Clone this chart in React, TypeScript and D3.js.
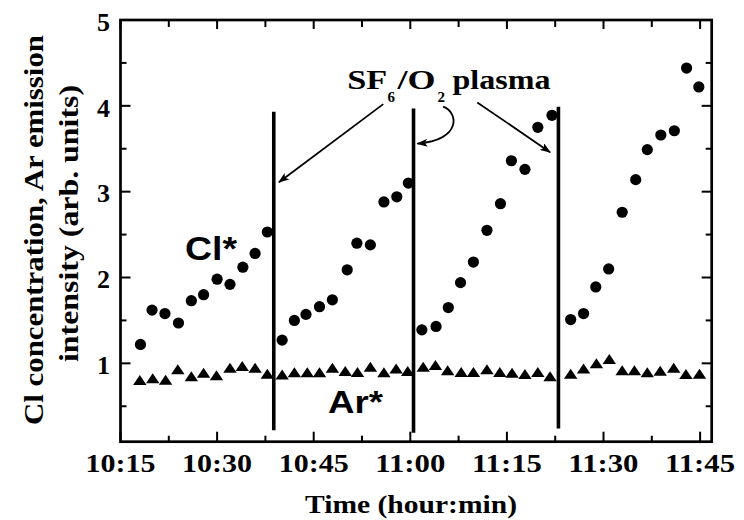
import React from 'react';
import * as d3 from 'd3';

// time in minutes after 10:00
const clTime = [
  18.1, 19.9, 21.9, 24.0, 26.0, 27.9, 30.0, 32.0, 34.0, 35.9, 37.8,
  40.1, 42.0, 43.8, 45.9, 47.9, 50.2, 51.7, 53.8, 55.9, 57.9, 59.7,
  61.8, 64.0, 65.9, 67.8, 69.8, 71.9, 74.0, 75.7, 77.8, 79.8, 82.0,
  84.9, 86.9, 88.8, 90.8, 92.9, 95.0, 96.8, 98.9, 101.0, 102.9, 104.8,
];
const clValue = [
  1.22, 1.62, 1.58, 1.47, 1.73, 1.80, 1.98, 1.92, 2.12, 2.28, 2.53,
  1.27, 1.50, 1.57, 1.66, 1.74, 2.09, 2.40, 2.38, 2.88, 2.94, 3.10,
  1.39, 1.43, 1.65, 1.94, 2.18, 2.55, 2.86, 3.36, 3.26, 3.75, 3.89,
  1.51, 1.58, 1.89, 2.10, 2.76, 3.14, 3.49, 3.66, 3.71, 4.44, 4.22,
];
const arTime = [
  18.0, 20.0, 22.0, 23.9, 26.0, 27.9, 29.9, 32.0, 33.9, 35.9, 37.8,
  40.1, 42.0, 44.0, 45.9, 47.9, 49.9, 51.8, 53.8, 55.9, 57.8, 59.6,
  62.0, 63.9, 65.8, 67.9, 69.8, 71.9, 73.9, 75.8, 77.8, 79.8, 81.7,
  84.9, 86.9, 88.9, 90.9, 92.9, 94.8, 96.8, 98.8, 100.9, 102.8, 104.9,
];
const arValue = [
  0.805, 0.825, 0.81, 0.93, 0.85, 0.89, 0.86, 0.95, 0.97, 0.95, 0.88,
  0.87, 0.895, 0.895, 0.895, 0.95, 0.91, 0.90, 0.96, 0.895, 0.94, 0.91,
  0.96, 0.98, 0.92, 0.90, 0.90, 0.93, 0.90, 0.89, 0.875, 0.90, 0.85,
  0.88, 0.94, 1.00, 1.05, 0.92, 0.92, 0.895, 0.915, 0.95, 0.875, 0.88,
];

const plasmaOnTime = [38.8, 60.5, 83.0];
const plasmaLineTop = [3.93, 3.97, 3.99];
const plasmaLineBottom = [0.22, 0.19, 0.24];

const xTickMinutes = [15, 30, 45, 60, 75, 90, 105];
const xTickLabels = ['10:15', '10:30', '10:45', '11:00', '11:15', '11:30', '11:45'];
const xMinorMinutes = [22.5, 37.5, 52.5, 67.5, 82.5, 97.5];
const yTicks = [1, 2, 3, 4, 5];
const yMinor = [0.5, 1.5, 2.5, 3.5, 4.5];

const serifStyle = { fontFamily: '"Liberation Serif", "Times New Roman", Times, serif', fontWeight: 700 };
const sansStyle = { fontFamily: '"Liberation Sans", Arial, Helvetica, sans-serif', fontWeight: 700 };

export default function App() {
  const L = 120.5, R = 711.7, T = 20, B = 441.7;
  const x = d3.scaleLinear().domain([15, 106.8]).range([L, R]);
  const y = d3.scaleLinear().domain([0.087, 5]).range([B, T]);

  const triPath = 'M0,-5 L6.7,5 L-6.7,5 Z';

  // annotation anchor points in data coords
  const textX = x(50.2), textY = y(4.2);
  const a1s = [x(55.8), y(4.02)], a1e = [x(39.6), y(3.11)];
  const a3s = [x(70.4), y(4.04)], a3e = [x(81.7), y(3.46)];
  const c0 = [x(65.1), y(3.99)], c1 = [x(67.45), y(3.93)], c2 = [x(68.07), y(3.6)], c3 = [x(61.1), y(3.56)];

  return (
    <svg width={744} height={520} style={{ position: 'absolute', left: 0, top: 0, background: '#fff' }}>
      <defs>
        <marker id="ah" markerUnits="userSpaceOnUse" markerWidth={11} markerHeight={8} refX={10} refY={4} orient="auto">
          <path d="M0,0 L11,4 L0,8 L2.5,4 Z" fill="#000" />
        </marker>
      </defs>

      {/* ticks */}
      {xTickMinutes.map((m) => (
        <g key={'xt' + m}>
          <line x1={x(m)} x2={x(m)} y1={B} y2={B - 10} stroke="#000" strokeWidth={2} />
          <line x1={x(m)} x2={x(m)} y1={T} y2={T + 9} stroke="#000" strokeWidth={2} />
        </g>
      ))}
      {xMinorMinutes.map((m) => (
        <g key={'xm' + m}>
          <line x1={x(m)} x2={x(m)} y1={B} y2={B - 6} stroke="#000" strokeWidth={2} />
          <line x1={x(m)} x2={x(m)} y1={T} y2={T + 7} stroke="#000" strokeWidth={2} />
        </g>
      ))}
      {yTicks.map((v) => (
        <g key={'yt' + v}>
          <line x1={L} x2={L + 10} y1={y(v)} y2={y(v)} stroke="#000" strokeWidth={2} />
          <line x1={R} x2={R - 10} y1={y(v)} y2={y(v)} stroke="#000" strokeWidth={2} />
        </g>
      ))}
      {yMinor.map((v) => (
        <g key={'ym' + v}>
          <line x1={L} x2={L + 6} y1={y(v)} y2={y(v)} stroke="#000" strokeWidth={2} />
          <line x1={R} x2={R - 6} y1={y(v)} y2={y(v)} stroke="#000" strokeWidth={2} />
        </g>
      ))}

      {/* frame */}
      <rect x={L} y={T} width={R - L} height={B - T} fill="none" stroke="#000" strokeWidth={2.7} />

      {/* tick labels */}
      {xTickMinutes.map((m, i) => (
        <text key={'xl' + m} x={x(m)} y={471.7} textAnchor="middle" style={serifStyle}
          fontSize={26} textLength={70} lengthAdjust="spacingAndGlyphs">{xTickLabels[i]}</text>
      ))}
      {yTicks.map((v) => (
        <text key={'yl' + v} x={110} y={y(v) + 10.8} textAnchor="end" style={serifStyle}
          fontSize={26}>{v}</text>
      ))}

      {/* axis titles */}
      <text x={411} y={513} textAnchor="middle" style={serifStyle} fontSize={25}
        textLength={212} lengthAdjust="spacingAndGlyphs">Time (hour:min)</text>
      <text transform="translate(43,230) rotate(-90)" textAnchor="middle" style={serifStyle}
        fontSize={27} textLength={390} lengthAdjust="spacingAndGlyphs">Cl concentration, Ar emission</text>
      <text transform="translate(78,223.5) rotate(-90)" textAnchor="middle" style={serifStyle}
        fontSize={27} textLength={277} lengthAdjust="spacingAndGlyphs">intensity (arb. units)</text>

      {/* Ar triangles */}
      {arTime.map((t, i) => (
        <path key={'ar' + i} d={triPath} transform={`translate(${x(t)},${y(arValue[i])})`} fill="#000" />
      ))}
      {/* Cl circles */}
      {clTime.map((t, i) => (
        <circle key={'cl' + i} cx={x(t)} cy={y(clValue[i])} r={5.6} fill="#000" />
      ))}

      {/* plasma on lines */}
      {plasmaOnTime.map((t, i) => (
        <line key={'pl' + i} x1={x(t)} x2={x(t)} y1={y(plasmaLineTop[i])} y2={y(plasmaLineBottom[i])}
          stroke="#000" strokeWidth={3.6} />
      ))}

      {/* labels */}
      <text x={185} y={260} style={sansStyle} fontSize={33} textLength={52}
        lengthAdjust="spacingAndGlyphs">Cl*</text>
      <text x={328} y={413.3} style={sansStyle} fontSize={32} textLength={55}
        lengthAdjust="spacingAndGlyphs">Ar*</text>

      {/* SF6/O2 plasma annotation */}
      <text x={textX} y={textY} style={serifStyle} fontSize={27} textLength={40} lengthAdjust="spacingAndGlyphs">SF</text>
      <text x={textX + 40.3} y={textY + 13.4} style={serifStyle} fontSize={15}>6</text>
      <text x={textX + 50.3} y={textY} style={serifStyle} fontSize={27} textLength={38} lengthAdjust="spacingAndGlyphs">/O</text>
      <text x={textX + 90.3} y={textY + 13.4} style={serifStyle} fontSize={15}>2</text>
      <text x={textX + 105.3} y={textY} style={serifStyle} fontSize={27} textLength={98} lengthAdjust="spacingAndGlyphs">plasma</text>

      <line x1={a1s[0]} y1={a1s[1]} x2={a1e[0]} y2={a1e[1]} stroke="#000" strokeWidth={1.8} markerEnd="url(#ah)" />
      <line x1={a3s[0]} y1={a3s[1]} x2={a3e[0]} y2={a3e[1]} stroke="#000" strokeWidth={1.8} markerEnd="url(#ah)" />
      <path d={`M${c0[0]},${c0[1]} C${c1[0]},${c1[1]} ${c2[0]},${c2[1]} ${c3[0]},${c3[1]}`} fill="none"
        stroke="#000" strokeWidth={1.8} markerEnd="url(#ah)" />
    </svg>
  );
}
